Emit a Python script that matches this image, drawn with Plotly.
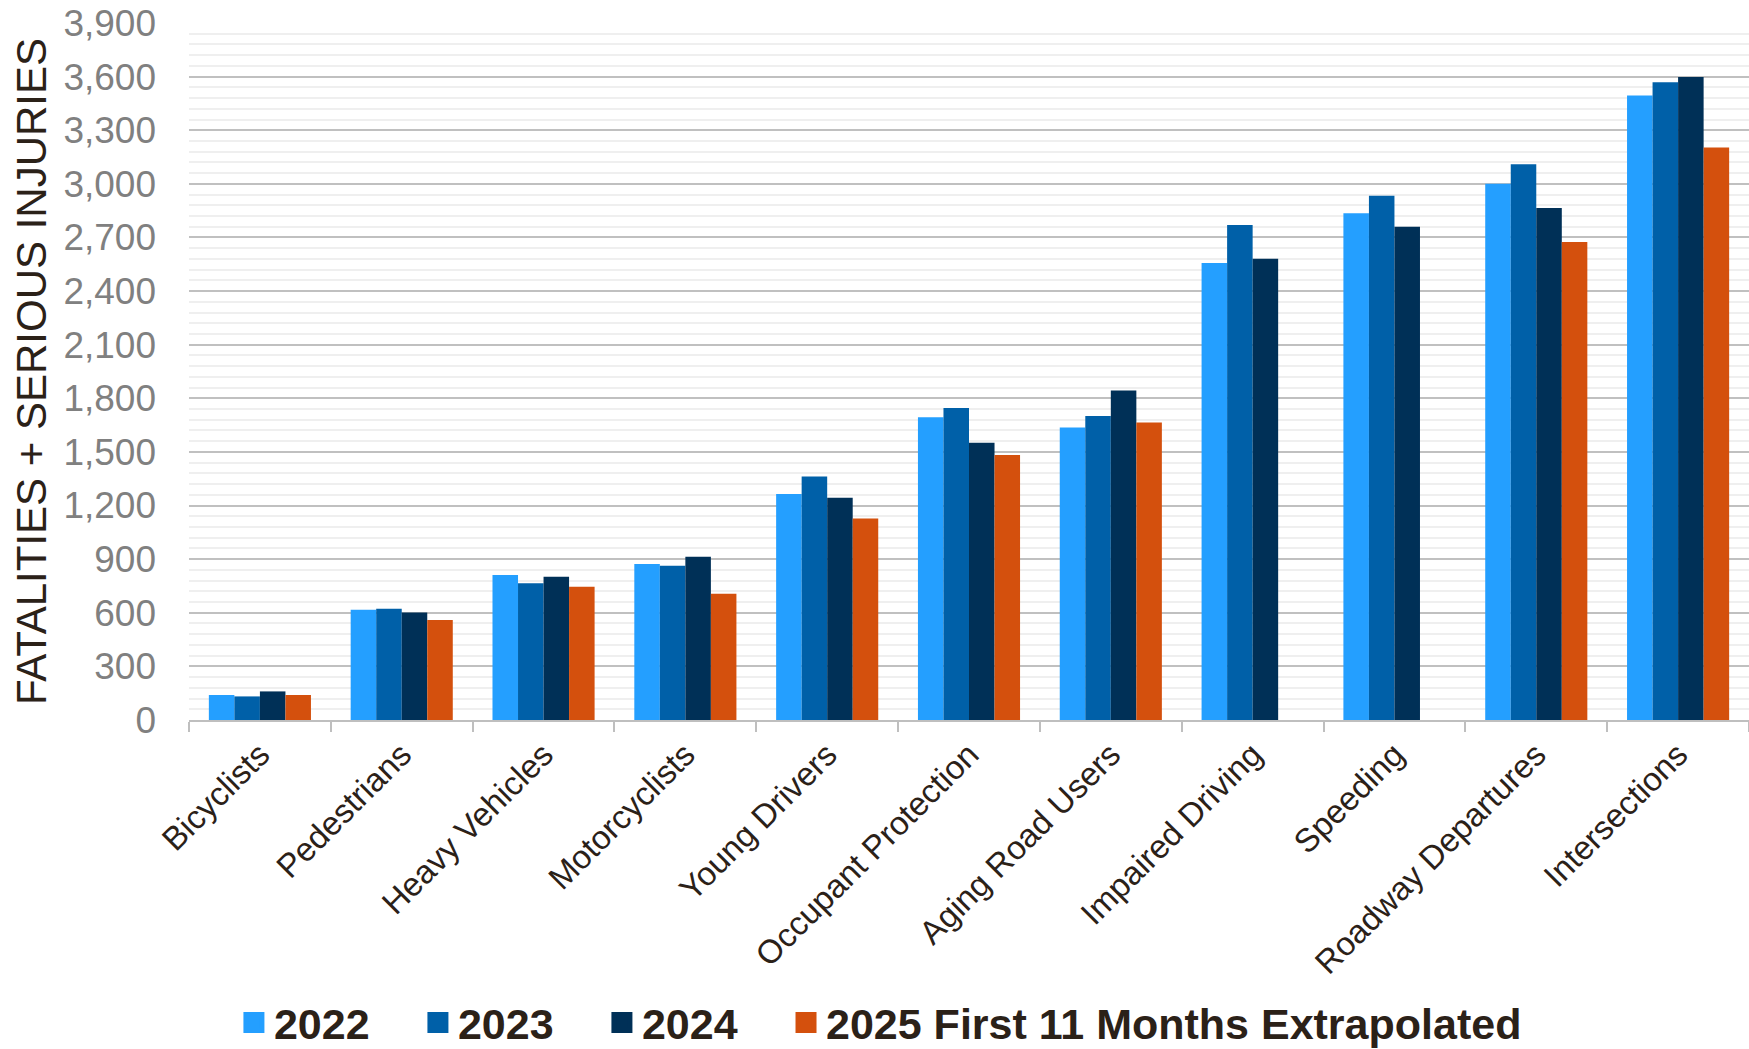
import plotly.graph_objects as go

categories = ["Bicyclists", "Pedestrians", "Heavy Vehicles", "Motorcyclists", "Young Drivers",
              "Occupant Protection", "Aging Road Users", "Impaired Driving", "Speeding",
              "Roadway Departures", "Intersections"]
v2022 = [140, 617, 811, 873, 1265, 1694, 1636, 2557, 2835, 3001, 3495]
v2023 = [132, 622, 765, 863, 1363, 1746, 1701, 2770, 2934, 3109, 3568]
v2024 = [160, 602, 802, 914, 1244, 1552, 1843, 2581, 2760, 2865, 3598]
v2025 = [140, 559, 746, 707, 1128, 1483, 1664, None, None, 2675, 3204]

series_names = ["2022", "2023", "2024", "2025 First 11 Months Extrapolated"]
series_values = [v2022, v2023, v2024, v2025]
series_colors = ["#249FFF", "#0060A8", "#003057", "#D4500D"]
legend_ids = ["legend", "legend", "legend", "legend2"]

FONT = "Liberation Sans, Arial, sans-serif"
TXT = "#2b2118"

fig = go.Figure()
for name, vals, col in zip(series_names, series_values, series_colors):
    fig.add_trace(go.Bar(name=name, x=categories, y=vals, legendgroup=name, showlegend=False,
                         marker=dict(color=col, line=dict(width=0))))
# legend swatches (square markers, no data)
for name, col, lg in zip(series_names, series_colors, legend_ids):
    fig.add_trace(go.Scatter(name=name, x=[None], y=[None], mode="markers", legendgroup=name,
                             legend=lg, hoverinfo="skip",
                             marker=dict(symbol="square", size=16, color=col,
                                         line=dict(color=col, width=5))))

legend_common = dict(orientation="h", yanchor="middle", y=-0.434, xanchor="left",
                     font=dict(family=FONT, size=43, color=TXT, weight="bold"),
                     traceorder="normal", itemwidth=30, bgcolor="rgba(0,0,0,0)")

fig.update_layout(
    width=1749, height=1049,
    paper_bgcolor="white", plot_bgcolor="white",
    barmode="group", bargap=0.28, bargroupgap=0,
    margin=dict(l=189, r=0, t=23, b=329, autoexpand=False),
    font=dict(family=FONT, color=TXT),
    legend=dict(x=0.0288, entrywidth=139, **legend_common),
    legend2=dict(x=0.3827, **legend_common),
    showlegend=True,
)
fig.update_xaxes(
    tickangle=-45, tickfont=dict(family=FONT, size=33, color=TXT),
    showline=True, linecolor="#bfbfbf", linewidth=2,
    ticks="outside", tickson="boundaries", ticklen=10, tickcolor="#bfbfbf", tickwidth=2,
    showgrid=False, automargin=False,
)
fig.update_yaxes(
    range=[0, 3900], dtick=300, tick0=0, tickformat=",",
    tickfont=dict(family=FONT, size=37, color="#808080"),
    showgrid=True, gridcolor="#c0c0c0", gridwidth=2,
    minor=dict(dtick=60, showgrid=True, gridcolor="#efefef", gridwidth=2),
    zeroline=False, ticks="", ticklabelstandoff=32, ticklabeloverflow="allow",
    title=dict(text="FATALITIES + SERIOUS INJURIES", font=dict(family=FONT, size=42, color=TXT), standoff=3),
    automargin=False,
)

fig.write_html("out.html", config={"displayModeBar": False},
               post_script="document.body.style.margin='0';")
